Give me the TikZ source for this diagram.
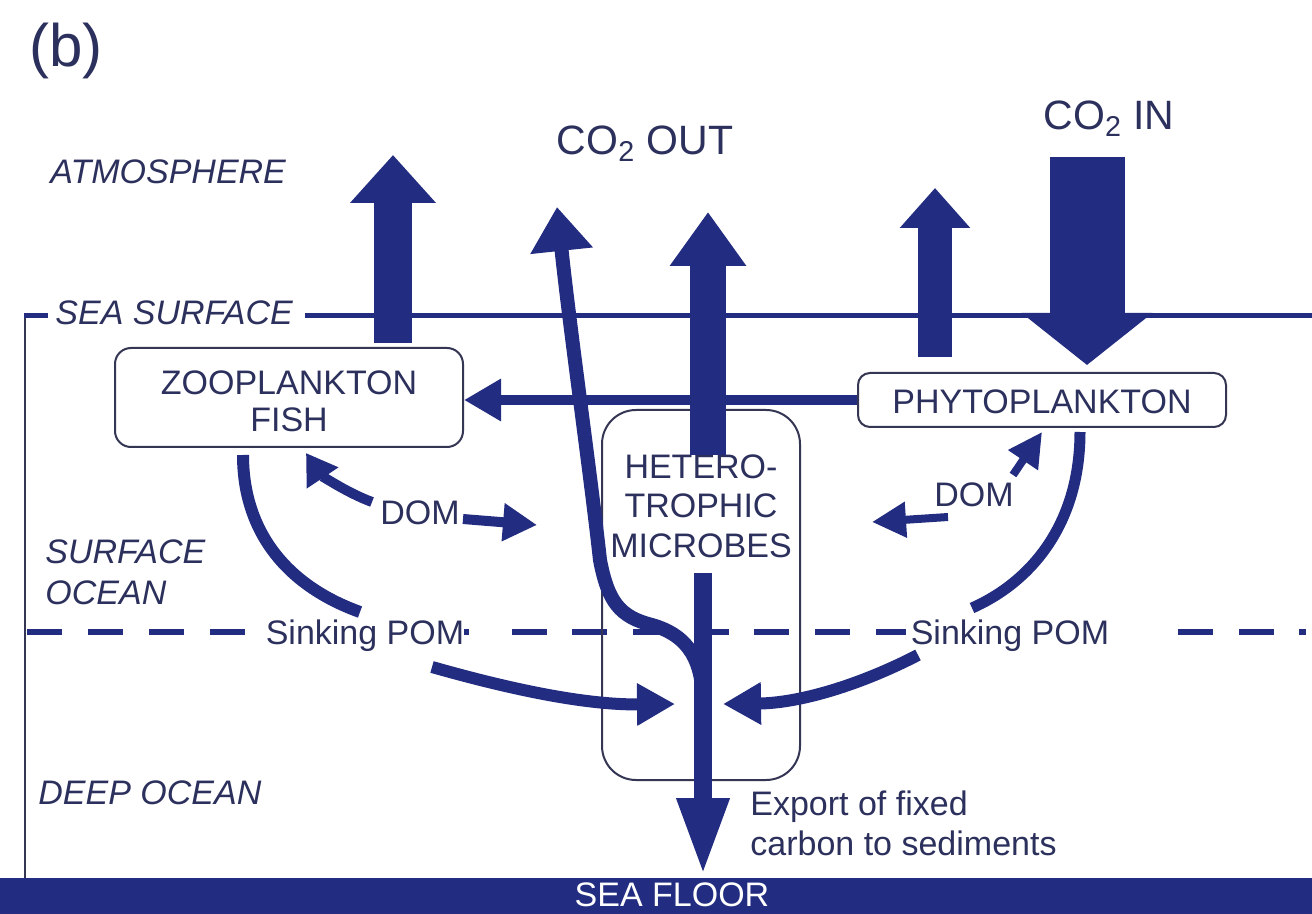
\documentclass[tikz,border=0pt]{standalone}
\usepackage{fontspec}
\setmainfont{Liberation Sans}
\usetikzlibrary{arrows.meta}
\definecolor{navy}{RGB}{34,44,128}
\definecolor{txt}{RGB}{44,48,92}
\definecolor{boxc}{RGB}{52,54,84}
\begin{document}
\begin{tikzpicture}[x=0.5pt,y=-0.5pt,
  lbl/.style={text=txt, font=\fontsize{17pt}{18.5pt}\selectfont, inner sep=0pt, anchor=base},
  ilbl/.style={lbl, font=\fontsize{17pt}{20pt}\selectfont\itshape},
  biglbl/.style={lbl, font=\fontsize{20.5pt}{24pt}\selectfont},
  rbox/.style={draw=boxc, line width=1pt, inner sep=0pt},
  flow/.style={draw=navy, line width=#1, line cap=butt},
  tip/.style 2 args={-{Triangle[length=#1,width=#2]}},
]
\useasboundingbox (0,0) rectangle (1312,914);
\fill[white] (0,0) rectangle (1312,914);

% ---- frame: sea surface, left edge, sea floor
\draw[draw=boxc, line width=1pt] (25,316) -- (25,878);
\draw[flow=2.5pt] (24,316) -- (48,316);
\draw[flow=2.5pt] (305,316) -- (1312,316);
\fill[navy] (0,878) rectangle (1312,914);
\node[lbl, text=white, font=\fontsize{17pt}{19pt}\selectfont] (floor) at (672,906) {SEA FLOOR};

% ---- dashed boundary between surface and deep ocean
\foreach \a/\b in {27/62, 88/123, 149/184, 210/245, 464/469, 512/547, 572/607, 633/668, 694/729, 754/789, 815/850, 876/906, 1178/1213, 1239/1274, 1299/1306}
  \draw[flow=3pt] (\a,632) -- (\b,632);

% ---- labels
\node[lbl, font=\fontsize{30pt}{33pt}\selectfont] (b) at (66,67) {(b)};
\node[ilbl, anchor=base west] (atm) at (50,184) {ATMOSPHERE};
\node[ilbl, anchor=base west] (seasurf) at (55,325) {SEA SURFACE};
\node[ilbl, anchor=base west] (surf) at (45,563) {SURFACE};
\node[ilbl, anchor=base west] (surf2) at (45,604) {OCEAN};
\node[ilbl, anchor=base west] (deep) at (38,804) {DEEP OCEAN};
\node[biglbl] (co2out) at (645,155) {CO\textsubscript{2} OUT};
\node[biglbl] (co2in) at (1109,130) {CO\textsubscript{2} IN};
\node[lbl] (pomL) at (365,644) {Sinking POM};
\node[lbl] (pomR) at (1010,644) {Sinking POM};
\node[lbl] (domL) at (420,524) {DOM};
\node[lbl] (domR) at (974,507) {DOM};
\node[lbl, anchor=base west] (exp1) at (750,815) {Export of fixed};
\node[lbl, anchor=base west] (exp2) at (750,855) {carbon to sediments};

% ---- boxes
\node[rbox, rounded corners=8pt, minimum width=174pt, minimum height=49.5pt] (zoo) at (289,397.5) {};
\node[lbl] (zoot1) at (289,395) {ZOOPLANKTON};
\node[lbl] (zoot2) at (289,432) {FISH};
\node[rbox, rounded corners=6pt, minimum width=184pt, minimum height=27pt] (phyto) at (1042,400) {};
\node[lbl] (phytot) at (1042,414) {PHYTOPLANKTON};
\node[rbox, rounded corners=17pt, minimum width=99pt, minimum height=185pt] (mic) at (701,595) {};
\node[lbl] (mict1) at (701,479) {HETERO-};
\node[lbl] (mict2) at (701,517) {TROPHIC};
\node[lbl] (mict3) at (701,557) {MICROBES};

% ---- named end points
\coordinate (zooTop) at (393,343);
\coordinate (atmL) at (393,155);
\coordinate (micTop) at (708,455);
\coordinate (atmC) at (708,212);
\coordinate (phyTop) at (935,357);
\coordinate (atmR) at (935,188);
\coordinate (inTop) at (1087,157);
\coordinate (inBot) at (1087,365);
\coordinate (curveTip) at (557,207);
\coordinate (join) at (703,705);
\coordinate (barTop) at (703,573);
\coordinate (barEnd) at (703,876);
\coordinate (mergeL) at (675,704);
\coordinate (mergeR) at (723,704);

% ---- air-sea fluxes
\draw[flow=19pt, tip={24pt}{41.5pt}] (zooTop) -- (atmL);
\draw[flow=18pt, tip={27pt}{36.5pt}] (micTop) -- (atmC);
\draw[flow=17pt, tip={20pt}{34pt}] (phyTop) -- (atmR);
\draw[flow=37.5pt, tip={26pt}{64pt}] (inTop) -- (inBot);

% ---- export bar and curved outgassing branch
\draw[flow=9pt, tip={39pt}{24pt}] (barTop) -- (barEnd);
\draw[flow=7pt, tip={22pt}{30pt}] (join) .. controls (703,662) and (690,636) .. (652,625)
   .. controls (620,617) and (608,602) .. (600,560) .. controls (590,470) and (570,330) .. (curveTip);

% ---- grazing
\draw[flow=5pt, tip={18.5pt}{20pt}] (phyto.west) -- (phyto.west -| zoo.east);

% ---- DOM exchanges
\draw[flow=5pt, tip={15pt}{18pt}] (372,502) .. controls (345,492) and (320,474) .. (306,453);
\draw[flow=5pt, tip={17pt}{18pt}] (463,519) -- (537,525);
\draw[flow=4pt, tip={17pt}{17pt}] (948,517) -- (872,522);
\draw[flow=4pt, tip={17pt}{17pt}] (1013,475) -- (1042,432);

% ---- sinking POM
\draw[flow=6pt] (243,455) .. controls (243,530) and (285,585) .. (360,612);
\draw[flow=5.5pt] (1080,432) .. controls (1080,520) and (1035,580) .. (972,608);
\draw[flow=6pt, tip={19pt}{20pt}] (432,667) .. controls (520,692) and (590,705) .. (mergeL);
\draw[flow=6pt, tip={19pt}{20pt}] (918,655) .. controls (860,685) and (800,703) .. (mergeR);
\end{tikzpicture}
\end{document}
